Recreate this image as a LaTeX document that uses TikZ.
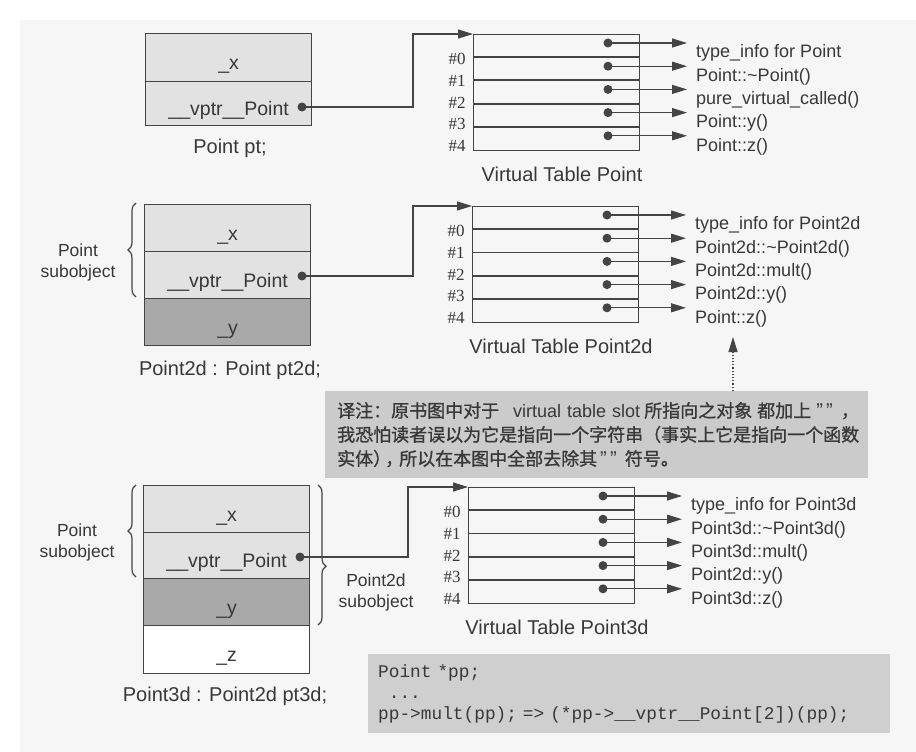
\documentclass[tikz,border=0pt]{standalone}
\usepackage{fontspec}
\setmainfont{Liberation Sans}
\newfontfamily\serifn{Liberation Serif}
\newfontfamily\monon{Liberation Mono}
\newfontfamily\latn{Liberation Sans}
\newfontfamily\cjk{Noto Sans CJK SC}[FakeBold=1]
\usetikzlibrary{arrows.meta,decorations.pathreplacing,calc}
\definecolor{ink}{HTML}{383838}
\definecolor{lnc}{HTML}{444444}
\definecolor{panel}{HTML}{F6F6F6}
\definecolor{lightrow}{HTML}{E2E2E2}
\definecolor{darkrow}{HTML}{A9A9A9}
\definecolor{notefill}{HTML}{CBCBCB}
\definecolor{codefill}{HTML}{CFCFCF}
\newcommand\mkvtab[4]{%
  \node[vtab] (#1) at (#2,#3) {};
  \foreach \k in {1,2,3,4} {\draw[divl] (#2,#3+\k*23.2) -- (#2+166,#3+\k*23.2);}
  \foreach \k in {0,...,4} {
    \node[slotlab] (#1n\k) at (#2-16,#3+25+\k*21.8) {\#\k};
    \node[dotn] (#1d\k) at (#2+135,#3+9+\k*23.2) {};
  }
  \node[ttl] (#1t) at (#2+89,#3+140) {#4};
}
\newcommand\mkfns[8]{%
  \node[fn] (#1f0) at (#2+223,#3+19) {#4};
  \node[fn] (#1f1) at (#2+223,#3+19+23.4) {#5};
  \node[fn] (#1f2) at (#2+223,#3+19+2*23.4) {#6};
  \node[fn] (#1f3) at (#2+223,#3+19+3*23.4) {#7};
  \node[fn] (#1f4) at (#2+223,#3+19+4*23.4) {#8};
  \foreach \k in {0,...,4} {\draw[arr] (#1d\k.center) -- (#1d\k.center -| #1f\k.west);}
}
\begin{document}
\begin{tikzpicture}[x=1pt,y=-1pt,
  cell/.style={draw=lnc, line width=1.3pt, minimum width=166pt, inner sep=0pt,
    anchor=north west, text=ink, font=\fontsize{19.5}{20}\selectfont,
    text height=24pt, text depth=0pt},
  dotn/.style={circle, fill=lnc, inner sep=0pt, minimum size=9pt},
  vtab/.style={draw=lnc, line width=1.1pt, minimum width=166pt, minimum height=116pt,
    anchor=north west, inner sep=0pt},
  divl/.style={draw=lnc, line width=1.8pt},
  slotlab/.style={text=ink, inner sep=0pt, font=\serifn\fontsize{17}{17}\selectfont},
  ttl/.style={text=ink, inner sep=0pt, font=\fontsize{20}{20}\selectfont},
  fn/.style={text=ink, inner sep=0pt, anchor=west, font=\fontsize{18}{18}\selectfont},
  arr/.style={draw=lnc, line width=1.1pt, -{Triangle[length=15pt,width=9pt]}, shorten >=9pt},
  conn/.style={draw=lnc, line width=1.1pt, -{Triangle[length=15pt,width=9pt]}},
  captxt/.style={text=ink, inner sep=0pt, font=\fontsize{20}{20}\selectfont},
  sublab/.style={text=ink, inner sep=0pt, align=center, font=\fontsize{17.5}{21}\selectfont},
  brc/.style={draw=lnc, line width=1.2pt, decorate, decoration={brace, amplitude=8pt}},
  dotarr/.style={draw=lnc, line width=1.1pt, dash pattern=on 1.2pt off 2pt,
    -{Triangle[length=15pt,width=9pt]}},
]
\useasboundingbox (0,0) rectangle (916,752);
\fill[white] (0,0) rectangle (916,752);
\fill[panel] (20,20) rectangle (916,752);

% ---------- Point pt ----------
\node[cell, fill=lightrow, minimum height=48pt] (a1x) at (145,33) {\_x};
\node[cell, fill=lightrow, minimum height=44pt] (a1v) at (145,81) {\_\_vptr\_\_Point};
\node[dotn] (d1) at (302,107) {};
\node[captxt] (c1) at (230,148) {Point pt;};
\mkvtab{ta}{473}{34}{Virtual Table Point}
\mkfns{ta}{473}{34}{type\_info for Point}{Point::\textasciitilde Point()}{pure\_virtual\_called()}{Point::y()}{Point::z()}
\coordinate (k1) at (413,34);
\draw[conn] (d1.center) -| (k1) -- (ta.north west);

% ---------- Point2d pt2d ----------
\node[cell, fill=lightrow, minimum height=47pt] (a2x) at (144,204) {\_x};
\node[cell, fill=lightrow, minimum height=47pt] (a2v) at (144,251) {\_\_vptr\_\_Point};
\node[cell, fill=darkrow, minimum height=47pt] (a2y) at (144,298) {\_y};
\node[dotn] (d2) at (302,276) {};
\node[captxt] (c2) at (230,370) {Point2d : Point pt2d;};
\draw[brc] (136,297) -- (136,203);
\node[sublab] (s2) at (78,262) {Point\\subobject};
\mkvtab{tb}{472}{206}{Virtual Table Point2d}
\mkfns{tb}{472}{206}{type\_info for Point2d}{Point2d::\textasciitilde Point2d()}{Point2d::mult()}{Point2d::y()}{Point::z()}
\coordinate (k2) at (413,206);
\draw[conn] (d2.center) -| (k2) -- (tb.north west);

% ---------- note ----------
\node[draw=none, fill=notefill, anchor=north west, minimum width=543pt, minimum height=87pt,
  text width=519pt, inner xsep=12pt, inner ysep=0pt, align=left, text=ink,
  font=\cjk\fontsize{18}{24}\selectfont] (note) at (325,391)
  {\mbox{译注：原书图中对于\hspace{14pt}{\latn virtual table slot}\hspace{4pt}所指向之对象\hspace{5pt}都加上\hspace{5pt}{\latn\fontsize{20}{24}\selectfont ”\,”}\hspace{8pt}，}\\%
   \mbox{我恐怕读者误以为它是指向一个字符串（事实上它是指向一个函数}\\%
   \mbox{实体\makebox[12pt][l]{）}\makebox[14pt][l]{，}所以在本图中全部去除其\hspace{3pt}{\latn\fontsize{20}{24}\selectfont ”\,”}\hspace{8pt}符号。}};
\coordinate (dtip) at (733,337);
\draw[dotarr] (note.north -| dtip) -- (dtip);

% ---------- Point3d pt3d ----------
\node[cell, fill=lightrow, minimum height=47pt] (a3x) at (143,485) {\_x};
\node[cell, fill=lightrow, minimum height=46pt] (a3v) at (143,532) {\_\_vptr\_\_Point};
\node[cell, fill=darkrow, minimum height=47pt] (a3y) at (143,578) {\_y};
\node[cell, fill=white, minimum height=48pt] (a3z) at (143,625) {\_z};
\node[dotn] (d3) at (300,557) {};
\node[captxt] (c3) at (225,696) {Point3d : Point2d pt3d;};
\draw[brc] (136,577) -- (136,485);
\node[sublab] (s3) at (77,542) {Point\\subobject};
\draw[brc, decoration={brace, amplitude=8pt, aspect=0.58}] (318,485) -- (318,625);
\node[sublab] (s4) at (376,592) {Point2d\\subobject};
\mkvtab{tc}{468}{487}{Virtual Table Point3d}
\mkfns{tc}{468}{487}{type\_info for Point3d}{Point3d::\textasciitilde Point3d()}{Point3d::mult()}{Point2d::y()}{Point3d::z()}
\coordinate (k3) at (408,487);
\draw[conn] (d3.center) -| (k3) -- (tc.north west);

% ---------- code ----------
\node[fill=codefill, anchor=north west, minimum width=522pt, minimum height=79pt,
  text width=502pt, inner xsep=10pt, inner ysep=0pt, align=left, text=ink,
  font=\monon\fontsize{17.8}{21}\selectfont] (code) at (368,654)
  {Point *pp;\\%
   \hspace*{0.6em}...\\%
   pp->mult(pp); => (*pp->\_\_vptr\_\_Point[2])(pp);};
\end{tikzpicture}
\end{document}
